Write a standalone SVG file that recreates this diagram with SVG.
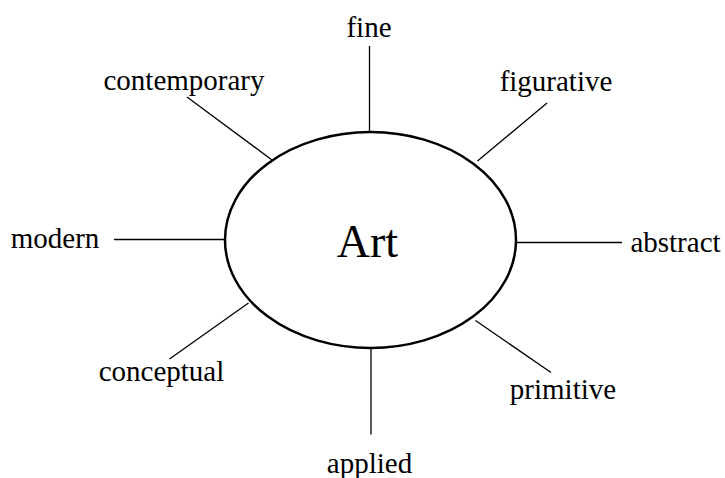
<svg xmlns="http://www.w3.org/2000/svg" width="725" height="478" viewBox="0 0 725 478">
  <style>
    .lbl { font-family: "Liberation Serif", "Times New Roman", serif; font-size: 29px; fill: #000; }
    .conn line { stroke: #000; stroke-width: 1.3; }
  </style>
  <rect width="725" height="478" fill="#fff"/>
  <g id="connectors" class="conn">
    <line x1="369.5" y1="46" x2="369.5" y2="132"/>
    <line x1="187" y1="97" x2="272" y2="160"/>
    <line x1="547" y1="103" x2="477.5" y2="161"/>
    <line x1="114" y1="239.5" x2="225" y2="239.5"/>
    <line x1="516" y1="242.5" x2="622" y2="242.5"/>
    <line x1="248.5" y1="303" x2="169.5" y2="359"/>
    <line x1="475.5" y1="320.5" x2="551" y2="372.5"/>
    <line x1="371" y1="348" x2="371" y2="434.5"/>
  </g>
  <g id="art">
    <ellipse cx="370.5" cy="240" rx="145.5" ry="108" fill="#fff" stroke="#000" stroke-width="2.5"/>
    <text x="367.5" y="257" text-anchor="middle" font-family="Liberation Serif, Times New Roman, serif" font-size="46">Art</text>
  </g>
  <g id="fine"><text class="lbl" x="369" y="37" text-anchor="middle">fine</text></g>
  <g id="contemporary"><text class="lbl" x="184" y="90" text-anchor="middle">contemporary</text></g>
  <g id="figurative"><text class="lbl" x="556" y="90.5" text-anchor="middle">figurative</text></g>
  <g id="modern"><text class="lbl" x="55" y="248" text-anchor="middle">modern</text></g>
  <g id="abstract"><text class="lbl" x="675.5" y="251.5" text-anchor="middle">abstract</text></g>
  <g id="conceptual"><text class="lbl" x="161.5" y="380.5" text-anchor="middle">conceptual</text></g>
  <g id="primitive"><text class="lbl" x="563" y="399" text-anchor="middle">primitive</text></g>
  <g id="applied"><text class="lbl" x="369.5" y="473" text-anchor="middle">applied</text></g>
</svg>
